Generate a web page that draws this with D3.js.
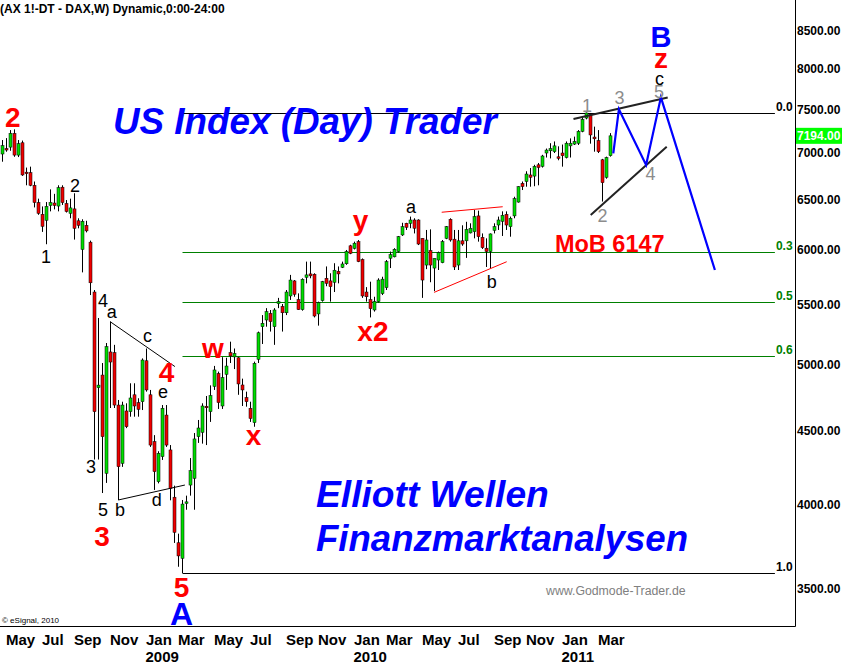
<!DOCTYPE html>
<html><head><meta charset="utf-8">
<script src="https://cdn.jsdelivr.net/npm/d3@7"></script>
<style>
body{margin:0;background:#fff;}
svg{display:block;font-family:"Liberation Sans",Arial,sans-serif;}
</style></head>
<body><svg id="c" width="843" height="665"></svg>
<script>
// ---------- DATA ----------
const startWeek = "2008-04-28";
const open  = [6989,7050,7066,7222,6977,7115,6790,6785,6650,6470,6350,6290,6440,6465,6434,6630,6460,6360,6405,6285,6005,6240,6075,5612,4820,4918,4207,5102,5096,4689,4274,4645,4640,4766,4707,4714,5031,4766,4424,4151,4320,4615,4366,4050,3767,3675,4010,4129,4173,4459,4490,4680,4640,4830,4930,4682,4924,5096,5062,5055,4841,4745,4665,4560,5043,5311,5368,5425,5311,5510,5485,5430,5577,5712,5545,5457,5745,5776,5773,5420,5536,5736,5712,5700,5800,5837,5870,6040,6015,6080,5910,5612,5545,5454,5527,5598,5651,5922,5935,5985,6145,6260,6260,6293,6293,6112,5858,5995,5830,5905,5880,6112,6300,6104,5858,6088,6088,6165,6177,6334,6122,6017,5985,6190,6243,6280,6350,6226,6334,6475,6670,6690,6760,6748,6870,6853,7000,7025,7015,6958,7000,6950,7080,7100,7110,7245,7400,7440,7180,7140,6925,6735,6970];
const high  = [7146,7168,7260,7268,7146,7140,6840,6850,6690,6510,6430,6475,6607,6560,6650,6650,6496,6510,6566,6310,6300,6285,6090,5630,5385,5013,5175,5354,5160,4727,4714,4702,4854,4854,4740,5050,5130,4803,4470,4357,4689,4689,4400,4125,3822,4032,4060,4310,4485,4579,4702,4757,4838,4990,4945,5060,5055,5186,5130,5060,4890,4790,4714,5024,5270,5410,5470,5454,5470,5560,5506,5630,5767,5720,5600,5736,5890,5890,5782,5527,5712,5845,5782,5875,5845,5890,6000,6050,6080,6096,5920,5656,5705,5570,5736,5750,5905,5985,6017,6135,6265,6265,6327,6310,6300,6112,6194,6200,5920,5985,6096,6233,6310,6194,6194,6240,6275,6260,6394,6387,6160,6112,6160,6260,6327,6380,6380,6327,6530,6640,6690,6800,6835,6870,6890,6980,7050,7110,7130,7075,7095,7130,7165,7185,7260,7410,7465,7460,7300,7260,6935,6960,7225];
const low   = [6904,7014,7025,6958,6955,6750,6650,6640,6420,6345,6175,6055,6380,6400,6380,6445,6368,6310,6100,6210,5790,6170,5585,4300,4300,4077,4143,4667,4667,4032,4250,4520,4603,4603,4603,4652,4790,4387,4097,4140,4297,4387,4030,3766,3626,3590,3970,4060,3970,4415,4410,4400,4565,4803,4660,4660,4803,5013,4965,4766,4682,4677,4565,4530,5013,5167,5311,5270,5160,5470,5270,5410,5542,5570,5454,5448,5690,5736,5390,5320,5527,5664,5527,5612,5690,5830,5860,5960,6005,5885,5560,5527,5390,5440,5518,5585,5630,5830,5930,5975,6135,6194,6211,6160,6047,5560,5820,5700,5620,5812,5875,6104,6080,5812,5812,6040,5925,6160,6112,6080,6010,5840,5830,6160,6194,6135,6194,6128,6310,6469,6600,6635,6635,6640,6650,6840,6950,6940,7000,6920,6850,6940,6950,7090,7090,7235,7385,7105,7015,7000,6480,6720,6960];
const close = [7082,7040,7222,6977,7104,6760,6775,6650,6470,6360,6230,6430,6470,6440,6624,6470,6378,6415,6210,6240,6280,6185,5695,4640,4840,4459,5145,5021,4689,4251,4689,4530,4742,4682,4657,5037,4803,4400,4218,4343,4665,4400,4107,3830,3689,4006,4020,4224,4443,4521,4682,4672,4760,4958,4707,4898,4989,5070,5090,4849,4803,4714,4590,5011,5260,5340,5439,5354,5454,5527,5430,5612,5720,5592,5457,5727,5767,5758,5402,5518,5705,5690,5660,5810,5776,5868,5985,5968,6065,5890,5577,5570,5465,5527,5720,5728,5889,5955,6007,6128,6226,6220,6293,6211,6057,5720,6096,5858,5920,5975,6080,6226,6096,5840,6088,6057,6200,6211,6327,6128,6022,5985,6155,6226,6293,6340,6243,6310,6510,6635,6637,6770,6735,6853,6840,6967,7033,7050,7080,6950,6970,7110,7110,7130,7245,7385,7460,7204,7160,7015,6677,6950,7194];

const priceTicks = [3500,4000,4500,5000,5500,6000,6500,7000,7500,8000,8500];
const monthNames = ["Jan","Feb","Mar","Apr","May","Jun","Jul","Aug","Sep","Oct","Nov","Dec"];
const labelledMonths = [0,2,4,6,8,10];

// Fibonacci retracement (low at week 45, drawn to week 193)
const fibHigh = 7460, fibLow = 3590;
const fibRatios = [0, 0.382, 0.5, 0.618, 1];
const fibTexts  = ["0.0","0.3","0.5","0.6","1.0"];
const fibStartWeek = 45, fibEndWeek = 193.1;

// drawn lines: [week, price]
const triUpper2008 = [[26.9,5354],[43.1,4985]];
const triLower2008 = [[28.95,4032],[45.6,4129]];
const redUpper2010 = [[109.8,6371],[125.05,6427]];
const redLower2010 = [[107.9,5609],[126.05,5889]];
const wedgeUpper   = [[142.75,7389],[166.3,7646]];
const wedgeLower   = [[147.05,6343],[166.05,7070]];
const bluePath     = [[152.7,6997],[154.1,7504],[160.9,6868],[164.6,7648],[178.1,5812]];

// wave labels: text, week, price
const blackLabels = [["1",10.9,5877],["2",18.1,6580],["3",22.1,4209],["4",25.1,5480],["a",27.3,5385],
  ["5",25.1,3931],["b",29.4,3931],["c",36.25,5183],["d",38.55,3994],["e",40.1,4742],
  ["a",102.1,6363],["b",122.3,5648],["c",164.25,7800]];
const redLabels = [["2",2.6,7295],["3",24.9,3748],["4",41,4864],["5",44.75,3456],["w",52.6,5053],
  ["x",62.75,4400],["y",89.5,6194],["x2",92.6,5192],["z",164.6,8013]];
const blueLabels = [["A",44.75,3305,32],["B",164.6,8285,29]];
const grayLabels = [["1",146.1,7472],["3",154.25,7568],["5",164.1,7640],["2",150,6273],["4",162,6706]];
const mobLabel = ["MoB 6147",138.1,5981];

// ---------- CHART ----------
const svg = d3.select("#c");
const plotRight = 795, plotBottom = 626;
const n = close.length;
const parse = d3.timeParse("%Y-%m-%d");
const t0 = parse(startWeek);
const dates = d3.range(n).map(i => d3.timeDay.offset(t0, 7*i));

const x = d3.scaleLinear().domain([-0.625, 198.125]).range([0, plotRight]);
const y = d3.scaleLog().domain([3500, 8500]).range([589, 30.9]);

svg.append("defs").append("clipPath").attr("id","plot")
  .append("rect").attr("x",0).attr("y",0).attr("width",plotRight).attr("height",plotBottom);

const plot = svg.append("g").attr("clip-path","url(#plot)");

// Fibonacci lines
fibRatios.forEach((r,k)=>{
  const p = fibHigh - r*(fibHigh-fibLow);
  const yy = Math.round(y(p))+0.5;
  const col = (r===0||r===1) ? "#000" : "#008000";
  plot.append("line").attr("x1",x(fibStartWeek)).attr("x2",x(fibEndWeek))
    .attr("y1",yy).attr("y2",yy).attr("stroke",col).attr("stroke-width",1);
  plot.append("text").attr("x",x(fibEndWeek)+1).attr("y",yy-3)
    .attr("font-size",12).attr("font-weight","bold").attr("fill",col).text(fibTexts[k]);
});

// big texts
const blue = "#0000ff";
function bigText(t,xx,yy,fs){
  svg.append("text").attr("x",xx).attr("y",yy).attr("font-size",fs).attr("font-weight","bold")
   .attr("font-style","italic").attr("fill",blue).text(t);
}
bigText("US Index (Day) Trader",113,134,36.8);
bigText("Elliott Wellen",316,507,37.2);
bigText("Finanzmarktanalysen",316,551,36.6);

// candles
const cg = plot.append("g");
const up = "#00dd00", dn = "#ee0000";
d3.range(n).forEach(i=>{
  const cx = x(i);
  cg.append("line").attr("x1",cx).attr("x2",cx).attr("y1",y(high[i])).attr("y2",y(low[i]))
    .attr("stroke","#000").attr("stroke-width",1);
  const top = y(Math.max(open[i],close[i])), bot = y(Math.min(open[i],close[i]));
  cg.append("rect").attr("x",cx-1.5).attr("width",3).attr("y",top).attr("height",Math.max(1.5,bot-top))
    .attr("fill", close[i]>=open[i] ? up : dn).attr("stroke","#000").attr("stroke-width",0.5);
});

// drawn lines
const lg = d3.line().x(d=>x(d[0])).y(d=>y(d[1]));
function drawLine(pts,col,w){
  plot.append("path").attr("d",lg(pts)).attr("fill","none").attr("stroke",col).attr("stroke-width",w);
}
drawLine(triUpper2008,"#000",1);
drawLine(triLower2008,"#000",1);
drawLine(redUpper2010,"#ff0000",1);
drawLine(redLower2010,"#ff0000",1);
drawLine(wedgeUpper,"#222",2);
drawLine(wedgeLower,"#222",2);
drawLine(bluePath,"#0000ff",2.2);

// labels
function lab(arr,col,fs,weight){
  arr.forEach(d=>{
    svg.append("text").attr("x",x(d[1])).attr("y",y(d[2])).attr("text-anchor","middle")
      .attr("font-size",d[3]||fs).attr("font-weight",weight).attr("fill",col).text(d[0]);
  });
}
lab(blackLabels,"#000",18,"normal");
lab(redLabels,"#ff0000",28,"bold");
lab(blueLabels,"#0000ff",32,"bold");
lab(grayLabels,"#8c8c8c",18,"normal");
svg.append("text").attr("x",x(mobLabel[1])).attr("y",y(mobLabel[2])).attr("font-size",23.5)
  .attr("font-weight","bold").attr("fill","#ff0000").text(mobLabel[0]);

// frame
svg.append("line").attr("x1",plotRight+0.5).attr("x2",plotRight+0.5).attr("y1",0).attr("y2",plotBottom+0.5).attr("stroke","#000");
svg.append("line").attr("x1",0).attr("x2",plotRight+0.5).attr("y1",plotBottom+0.5).attr("y2",plotBottom+0.5).attr("stroke","#000");

// right axis
const ay = svg.append("g").attr("transform",`translate(${plotRight+1},0)`)
  .call(d3.axisRight(y).tickValues(priceTicks).tickSize(0).tickPadding(1).tickFormat(d3.format(".2f")));
ay.select(".domain").remove();
ay.selectAll("text").attr("font-size",12).attr("font-weight","bold").attr("fill","#000")
  .attr("font-family","'Liberation Sans',Arial,sans-serif");

// last price box
const last = close[n-1];
svg.append("rect").attr("x",plotRight+1).attr("y",y(last)-8).attr("width",46).attr("height",16).attr("fill","#00ff00");
svg.append("text").attr("x",plotRight+2).attr("y",y(last)).attr("dy","0.35em").attr("font-size",12)
  .attr("font-weight","bold").attr("fill","#fff").text(d3.format(".2f")(last));

// bottom axis (months)
const monthTicks = d3.range(1,n).filter(i=>dates[i].getMonth()!==dates[i-1].getMonth() && labelledMonths.includes(dates[i].getMonth()));
const ax = svg.append("g").attr("transform",`translate(0,${plotBottom})`)
  .call(d3.axisBottom(x).tickValues(monthTicks).tickSize(0).tickPadding(0)
    .tickFormat(i=>monthNames[dates[i].getMonth()]));
ax.select(".domain").remove();
ax.selectAll("text").attr("text-anchor","start").attr("dy",0).attr("y",19).attr("dx",-1)
  .attr("font-size",15).attr("font-weight","bold").attr("fill","#000")
  .attr("font-family","'Liberation Sans Narrow','Arial Narrow',sans-serif");
monthTicks.filter(i=>dates[i].getMonth()===0).forEach(i=>{
  svg.append("text").attr("x",x(i)-1).attr("y",plotBottom+36).attr("font-size",15).attr("font-weight","bold")
   .attr("font-family","'Liberation Sans Narrow','Arial Narrow',sans-serif").text(dates[i].getFullYear());
});

// header & footer texts
svg.append("text").attr("x",0).attr("y",13).attr("font-size",12).attr("font-weight","bold")
  .text("(AX 1!-DT - DAX,W) Dynamic,0:00-24:00");
svg.append("text").attr("x",2).attr("y",623).attr("font-size",8).text("© eSignal, 2010");
svg.append("text").attr("x",546).attr("y",595).attr("font-size",12.3).attr("fill","#808080").text("www.Godmode-Trader.de");
</script>
</body></html>
